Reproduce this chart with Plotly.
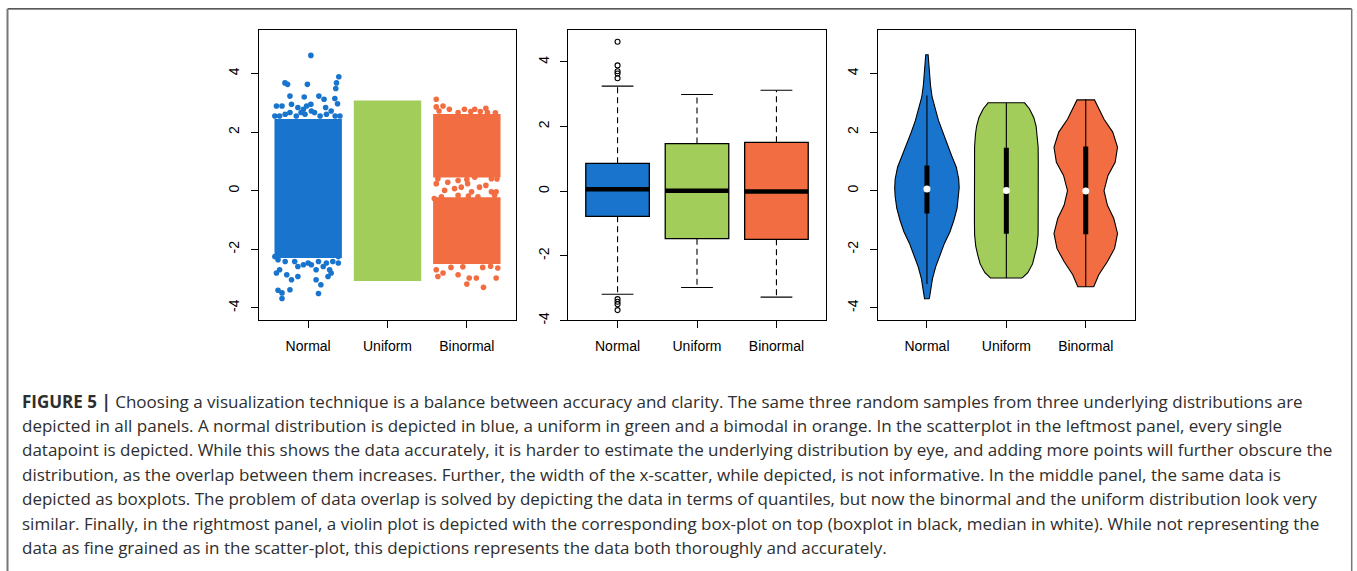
import plotly.graph_objects as go

# ---------------- data ----------------
categories = ["Normal", "Uniform", "Binormal"]
cat_pos = [1, 2, 3]
colors = ["#1874CD", "#A2CD5A", "#F26D41"]

# Panel 1 (jittered strip chart): dense cores (category, low, high) and sparse points
core_cat = [1, 2, 3, 3]
core_lo = [-2.30, -3.08, 0.45, -2.50]
core_hi = [2.45, 3.08, 2.62, -0.22]
core_color = [0, 1, 2, 2]
jitter_span = 0.85

normal_pts_x = [1.034, 0.707, 0.74, 0.99, 1.386, 1.357, 1.348, 0.77, 0.95, 1.135, 1.20, 1.336,
                0.60, 0.67, 0.79, 0.87, 0.98, 1.034, 1.37, 1.22, 0.64, 0.77, 0.91, 1.08, 1.29,
                1.34, 0.58, 0.71, 0.85, 0.96, 1.15, 1.23, 1.40, 1.04, 0.94,
                0.62, 0.58, 1.38, 0.71, 0.83, 1.13, 1.31, 1.00, 1.23, 1.38, 1.04, 0.94, 0.87,
                1.19, 0.64, 1.10, 1.27, 0.60, 1.29, 0.73, 0.87, 1.25, 0.79, 1.10, 1.16, 0.62,
                0.77, 0.67, 1.13, 0.67]
normal_pts_y = [4.62, 3.68, 3.63, 3.63, 3.89, 3.68, 3.49, 3.23, 3.20, 3.23, 3.12, 3.15,
                2.89, 2.89, 2.95, 2.84, 2.89, 2.95, 2.97, 2.84, 2.55, 2.67, 2.67, 2.67, 2.72,
                2.55, 2.55, 2.61, 2.55, 2.61, 2.55, 2.61, 2.55, 2.72, 2.78,
                -2.36, -2.25, -2.25, -2.42, -2.42, -2.42, -2.42, -2.47, -2.47, -2.47, -2.53,
                -2.53, -2.59, -2.59, -2.70, -2.70, -2.70, -2.81, -2.81, -2.87, -2.93, -2.93,
                -3.04, -3.04, -3.21, -3.40, -3.38, -3.49, -3.51, -3.68]

binorm_pts_x = [2.615, 2.615, 2.70, 2.78, 2.97, 3.10, 3.24, 3.26, 2.89, 2.65, 3.05, 3.17, 3.36,
                2.635, 2.89, 3.10, 3.31, 2.76, 3.00, 3.38,
                2.615, 2.72, 2.845, 2.93, 3.06, 3.16, 3.24, 3.31, 3.37, 3.01,
                2.68, 2.89, 3.14, 3.35, 2.59, 3.02,
                2.635, 2.70, 2.89, 3.03, 3.12, 3.00, 3.21, 3.37, 3.39, 2.615, 2.80, 2.95,
                3.20, 3.30]
binorm_pts_y = [3.12, 2.86, 2.89, 2.78, 2.78, 2.78, 2.81, 2.67, 2.67, 2.72, 2.70, 2.70, 2.66,
                0.41, 0.35, 0.46, 0.41, 0.29, 0.38, 0.40,
                0.24, 0.01, 0.07, 0.12, -0.04, 0.12, 0.18, -0.04, -0.04, 0.24,
                -0.21, -0.16, -0.21, -0.16, -0.27, -0.18,
                -2.93, -2.81, -2.87, -2.98, -2.98, -3.19, -3.30, -2.98, -2.64, -2.70, -2.62,
                -2.60, -2.62, -2.58]

# Panel 2 (boxplot statistics)
q1 = [-0.78, -1.47, -1.49]
median = [0.06, 0.01, -0.01]
q3 = [0.86, 1.47, 1.51]
whisk_lo = [-3.19, -2.98, -3.28]
whisk_hi = [3.25, 2.99, 3.12]
outlier_cat = [1, 1, 1, 1, 1, 1, 1, 1, 1]
outlier_y = [4.62, 3.89, 3.71, 3.64, 3.49, -3.34, -3.42, -3.50, -3.68]

# Panel 3 (violin half-width profiles)
normal_vy = [-3.69, -3.4, -3.0, -2.6, -2.2, -1.8, -1.4, -1.0, -0.6, -0.2, 0.1, 0.4, 0.8,
             1.2, 1.6, 2.0, 2.4, 2.8, 3.2, 3.6, 4.0, 4.3, 4.64]
normal_vw = [0.03, 0.045, 0.07, 0.11, 0.165, 0.22, 0.29, 0.34, 0.38, 0.40, 0.406, 0.40, 0.37,
             0.31, 0.255, 0.197, 0.145, 0.105, 0.065, 0.045, 0.03, 0.022, 0.015]
uniform_vy = [-2.98, -2.8, -2.5, -2.2, -1.9, -1.5, -1.0, -0.5, 0.0, 0.5, 1.0, 1.5, 1.9,
              2.2, 2.5, 2.8, 3.0]
uniform_vw = [0.20, 0.27, 0.33, 0.36, 0.385, 0.40, 0.402, 0.405, 0.405, 0.405, 0.402, 0.40,
              0.39, 0.375, 0.345, 0.29, 0.23]
binorm_vy = [-3.28, -2.87, -2.42, -1.97, -1.46, -0.95, -0.5, 0.0, 0.52, 0.97, 1.48, 2.0,
             2.44, 2.8, 3.1]
binorm_vw = [0.10, 0.164, 0.273, 0.363, 0.40, 0.353, 0.273, 0.23, 0.28, 0.37, 0.40, 0.34,
             0.23, 0.16, 0.11]

y_ticks = [-4, -2, 0, 2, 4]
y_tick_labels = ["-4", "-2", "0", "2", "4"]

caption_lines = [
    "<b>FIGURE 5 |</b> Choosing a visualization technique is a balance between accuracy and clarity. The same three random samples from three underlying distributions are",
    "depicted in all panels. A normal distribution is depicted in blue, a uniform in green and a bimodal in orange. In the scatterplot in the leftmost panel, every single",
    "datapoint is depicted. While this shows the data accurately, it is harder to estimate the underlying distribution by eye, and adding more points will further obscure the",
    "distribution, as the overlap between them increases. Further, the width of the x-scatter, while depicted, is not informative. In the middle panel, the same data is",
    "depicted as boxplots. The problem of data overlap is solved by depicting the data in terms of quantiles, but now the binormal and the uniform distribution look very",
    "similar. Finally, in the rightmost panel, a violin plot is depicted with the corresponding box-plot on top (boxplot in black, median in white). While not representing the",
    "data as fine grained as in the scatter-plot, this depictions represents the data both thoroughly and accurately.",
]

# ---------------- figure ----------------
W, H = 1357, 571
fig = go.Figure()

# Panel 1
fig.add_trace(go.Bar(x=core_cat, base=core_lo, y=[h - l for l, h in zip(core_lo, core_hi)],
                     width=jitter_span, marker=dict(color=[colors[i] for i in core_color], line=dict(width=0)),
                     xaxis="x", yaxis="y", showlegend=False, hoverinfo="skip"))
fig.add_trace(go.Scatter(x=normal_pts_x, y=normal_pts_y, mode="markers",
                         marker=dict(color=colors[0], size=5.6, line=dict(width=0)),
                         xaxis="x", yaxis="y", showlegend=False))
fig.add_trace(go.Scatter(x=binorm_pts_x, y=binorm_pts_y, mode="markers",
                         marker=dict(color=colors[2], size=5.6, line=dict(width=0)),
                         xaxis="x", yaxis="y", showlegend=False))

# Panel 2
fig.add_trace(go.Bar(x=cat_pos, base=q1, y=[b - a for a, b in zip(q1, q3)], width=0.8,
                     marker=dict(color=colors, line=dict(color="black", width=1.3)),
                     xaxis="x2", yaxis="y2", showlegend=False, hoverinfo="skip"))
for i, c in enumerate(cat_pos):
    fig.add_trace(go.Scatter(x=[c, c, None, c, c], y=[q3[i], whisk_hi[i], None, q1[i], whisk_lo[i]],
                             mode="lines", line=dict(color="black", width=1.1, dash="6px,4px"),
                             xaxis="x2", yaxis="y2", showlegend=False))
    fig.add_trace(go.Scatter(x=[c - 0.2, c + 0.2, None, c - 0.2, c + 0.2],
                             y=[whisk_hi[i], whisk_hi[i], None, whisk_lo[i], whisk_lo[i]],
                             mode="lines", line=dict(color="black", width=1.1),
                             xaxis="x2", yaxis="y2", showlegend=False))
    fig.add_trace(go.Scatter(x=[c - 0.4, c + 0.4], y=[median[i], median[i]], mode="lines",
                             line=dict(color="black", width=4.5),
                             xaxis="x2", yaxis="y2", showlegend=False))
fig.add_trace(go.Scatter(x=outlier_cat, y=outlier_y, mode="markers",
                         marker=dict(symbol="circle-open", color="black", size=5, line=dict(width=1.1)),
                         xaxis="x2", yaxis="y2", showlegend=False))

# Panel 3
profiles = [(normal_vy, normal_vw), (uniform_vy, uniform_vw), (binorm_vy, binorm_vw)]
for i, (vy, vw) in enumerate(profiles):
    c = cat_pos[i]
    xs = [c + w for w in vw] + [c - w for w in reversed(vw)] + [c + vw[0]]
    ys = list(vy) + list(reversed(vy)) + [vy[0]]
    fig.add_trace(go.Scatter(x=xs, y=ys, mode="lines", fill="toself", fillcolor=colors[i],
                             line=dict(color="black", width=1.1),
                             xaxis="x3", yaxis="y3", showlegend=False))
    fig.add_trace(go.Scatter(x=[c, c], y=[whisk_lo[i], whisk_hi[i]], mode="lines",
                             line=dict(color="black", width=1.1),
                             xaxis="x3", yaxis="y3", showlegend=False))
    fig.add_trace(go.Scatter(x=[c, c], y=[q1[i], q3[i]], mode="lines",
                             line=dict(color="black", width=5),
                             xaxis="x3", yaxis="y3", showlegend=False))
fig.add_trace(go.Scatter(x=cat_pos, y=median, mode="markers",
                         marker=dict(color="white", size=7, line=dict(width=0)),
                         xaxis="x3", yaxis="y3", showlegend=False))

# axes
ydom = [1 - 322.7 / H, 1 - 30.7 / H]
xdoms = [[259 / W, 516 / W], [568.3 / W, 825.7 / W], [877.7 / W, 1135 / W]]
yranges = [[-4.43, 5.47], [-4.0, 4.97], [-4.43, 5.47]]
font_ax = dict(family="Liberation Sans, Arial, sans-serif", size=14, color="black")
for k in range(3):
    sx = "" if k == 0 else str(k + 1)
    fig.layout["xaxis" + sx] = dict(domain=xdoms[k], range=[0.38, 3.62], anchor="y" + sx,
                                    tickvals=cat_pos, ticktext=categories, ticks="outside",
                                    ticklen=7, tickwidth=1, tickcolor="black", showline=True,
                                    mirror=True, linecolor="black", linewidth=1, showgrid=False,
                                    zeroline=False, tickfont=font_ax, ticklabelstandoff=6)
    fig.layout["yaxis" + sx] = dict(domain=ydom, range=yranges[k], anchor="x" + sx,
                                    tickvals=y_ticks, ticktext=y_tick_labels, ticks="outside",
                                    ticklen=7, tickwidth=1,
                                    tickcolor="black", showline=True, mirror=True,
                                    linecolor="black", linewidth=1, showgrid=False,
                                    zeroline=False, tickfont=font_ax, tickangle=-90,
                                    ticklabelstandoff=6)

# caption
line_y = [404, 429, 453, 478, 502, 527, 551]
for txt, py in zip(caption_lines, line_y):
    fig.add_annotation(x=20 / W, y=1 - py / H, xref="paper", yref="paper", text=txt,
                       showarrow=False, xanchor="left", yanchor="middle", align="left",
                       font=dict(family="Open Sans, sans-serif", size=17, color="#2e2e2e"))

# outer frame
fig.add_shape(type="line", xref="paper", yref="paper", x0=7.5 / W, x1=1351.7 / W,
              y0=1 - 9 / H, y1=1 - 9 / H, line=dict(color="#222222", width=1.2))
fig.add_shape(type="line", xref="paper", yref="paper", x0=7.5 / W, x1=7.5 / W,
              y0=1 - 9 / H, y1=-0.05, line=dict(color="#777777", width=2))
fig.add_shape(type="line", xref="paper", yref="paper", x0=1351.7 / W, x1=1351.7 / W,
              y0=1 - 9 / H, y1=-0.05, line=dict(color="#777777", width=1.5))

fig.update_layout(width=W, height=H, margin=dict(l=0, r=0, t=0, b=0),
                  paper_bgcolor="white", plot_bgcolor="white", barmode="overlay",
                  showlegend=False)

fig.write_html("out.html", config={"displayModeBar": False},
               post_script="document.body.style.margin='0';document.body.style.overflow='hidden';")
